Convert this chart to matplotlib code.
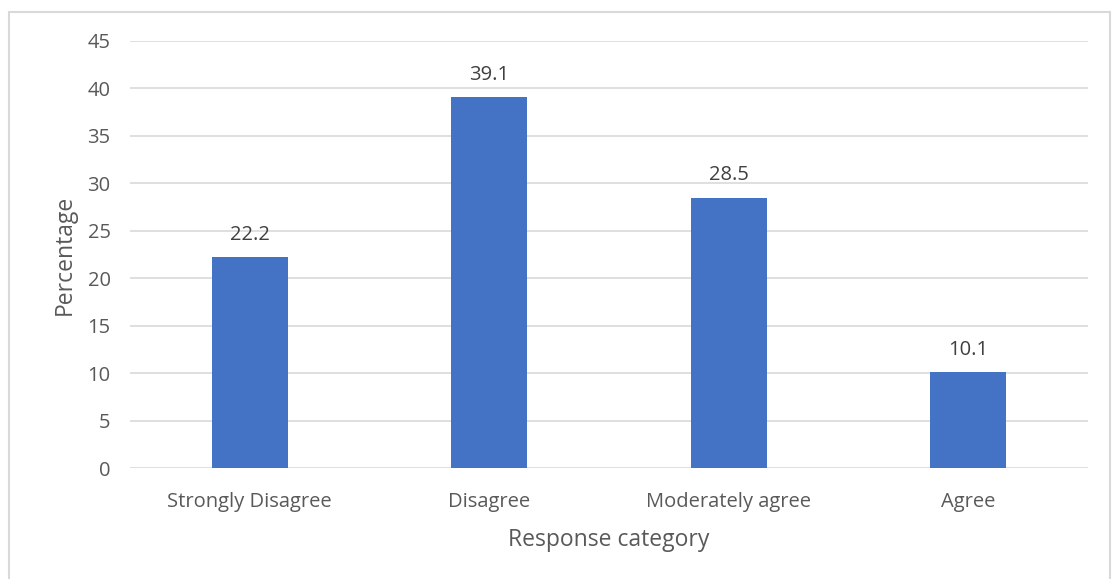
import matplotlib.pyplot as plt
from matplotlib.patches import Rectangle

categories = ["Strongly Disagree", "Disagree", "Moderately agree", "Agree"]
percentages = [22.2, 39.1, 28.5, 10.1]
y_ticks = [0, 5, 10, 15, 20, 25, 30, 35, 40, 45]

plt.rcParams['font.family'] = ['Open Sans', 'DejaVu Sans']
text_color = "#595959"

fig = plt.figure(figsize=(11.14, 5.79), dpi=100)
# chart area border
fig.patches.append(Rectangle((9 / 1114, -0.05), 1101 / 1114, 1.05 - 12 / 579,
                             transform=fig.transFigure, fill=False,
                             edgecolor="#d9d9d9", linewidth=1.5))

ax = fig.add_axes([130 / 1114, 1 - 468 / 579, 958 / 1114, 427 / 579])
x = range(len(categories))
bars = ax.bar(x, percentages, width=0.317, color="#4472c4", zorder=3)

for i, v in enumerate(percentages):
    ax.text(i, v + 1.3, f"{v}", ha="center", va="bottom", fontsize=14.5, color="#404040")

ax.set_xlim(-0.5, len(categories) - 0.5)
ax.set_ylim(0, 45)
ax.set_yticks(y_ticks)
ax.set_xticks(list(x))
ax.set_xticklabels(categories)
ax.grid(axis="y", color="#d9d9d9", linewidth=1.2, zorder=0)
ax.tick_params(length=0, labelsize=14.5, labelcolor=text_color)
ax.tick_params(axis="y", pad=14)
ax.tick_params(axis="x", pad=17)
for s in ax.spines.values():
    s.set_visible(False)

ax.set_ylabel("Percentage", fontsize=16.5, color=text_color, labelpad=8)
ax.set_xlabel("Response category", fontsize=16.5, color=text_color, labelpad=12)

fig.savefig("out.png", dpi=100)
